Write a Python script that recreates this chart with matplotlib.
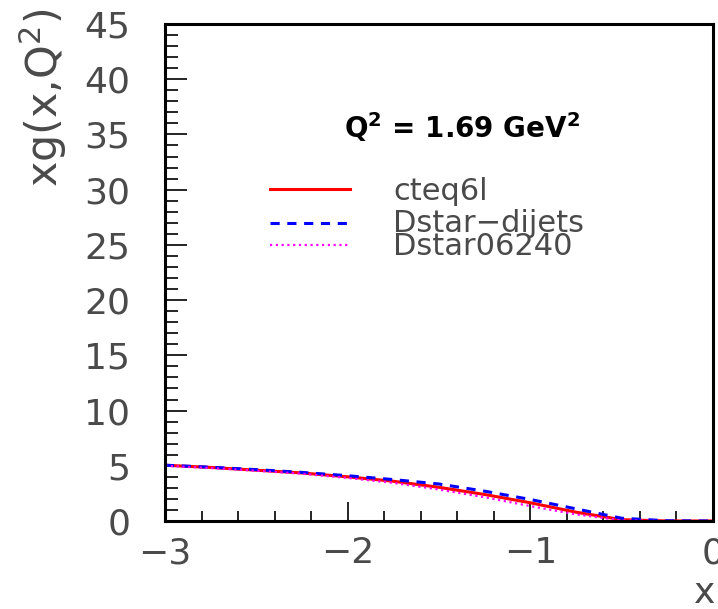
import numpy as np
import matplotlib
matplotlib.use("Agg")
import matplotlib.pyplot as plt
from matplotlib.ticker import MultipleLocator
from matplotlib.lines import Line2D

# gluon density, x axis is log10(x)
LOGX = [-3.0, -2.75, -2.5, -2.25, -2.0, -1.75, -1.5, -1.25, -1.0, -0.75, -0.5, -0.25, 0.0]
CTEQ6L = [5.05, 4.85, 4.6, 4.35, 4.0, 3.6, 3.05, 2.4, 1.65, 0.8, 0.12, 0.0, 0.0]
DSTAR_DIJETS = [5.05, 4.87, 4.65, 4.4, 4.1, 3.75, 3.35, 2.7, 1.95, 1.1, 0.25, 0.02, 0.0]
DSTAR06240 = [5.0, 4.8, 4.55, 4.28, 3.9, 3.45, 2.85, 2.15, 1.35, 0.6, 0.05, 0.0, 0.0]

SERIES = [
    ("cteq6l", CTEQ6L, {"color": "#ff0000", "linestyle": "-", "lw": 2.2}),
    ("Dstar\u2212dijets", DSTAR_DIJETS, {"color": "#0000ff", "linestyle": (0, (3, 2.5)), "lw": 2.2}),
    ("Dstar06240", DSTAR06240, {"color": "#ff00ff", "linestyle": (0, (1, 1.6)), "lw": 1.6}),
]

GRAY = "#4a4a4a"

fig = plt.figure(figsize=(7.18, 6.09), dpi=100)
ax = fig.add_axes([0.2298, 0.1445, 0.7632, 0.8161])

for label, vals, st in SERIES:
    ax.plot(LOGX, vals, color=st["color"], linestyle=st["linestyle"], lw=st["lw"])

ax.set_xlim(-3, 0)
ax.set_ylim(0, 45)

ax.xaxis.set_major_locator(MultipleLocator(1))
ax.xaxis.set_minor_locator(MultipleLocator(0.2))
ax.yaxis.set_major_locator(MultipleLocator(5))
ax.yaxis.set_minor_locator(MultipleLocator(1))

for s in ax.spines.values():
    s.set_linewidth(2.2)
ax.tick_params(axis="both", which="both", direction="in", width=1.2, colors="black",
               labelcolor=GRAY, labelsize=26)
ax.tick_params(axis="x", which="major", length=14, pad=11)
ax.tick_params(axis="x", which="minor", length=7)
ax.tick_params(axis="y", which="major", length=16, pad=25)
ax.tick_params(axis="y", which="minor", length=9)

ax.set_xlabel("x", fontsize=26, color=GRAY)
ax.xaxis.set_label_coords(0.985, -0.11)
ax.set_ylabel("xg(x,Q$^{2}$)", fontsize=31, color=GRAY, loc="top")
ax.yaxis.set_label_coords(-0.175, 1.03)

ax.text(0.542, 0.793, "Q$^{\\mathbf{2}}$ = 1.69 GeV$^{\\mathbf{2}}$", transform=ax.transAxes,
        ha="center", va="center", fontsize=20, fontweight="bold", color="black")

# hand-placed legend, entries overlap like in the original
key_y = [0.668, 0.5996, 0.5553]
text_y = [0.662, 0.598, 0.553]
for (label, vals, st), ky, ty in zip(SERIES, key_y, text_y):
    ax.add_line(Line2D([0.1916, 0.3376], [ky, ky], transform=ax.transAxes,
                       color=st["color"], linestyle=st["linestyle"], lw=st["lw"]))
    ax.text(0.416, ty, label, transform=ax.transAxes, ha="left", va="center",
            fontsize=22, color=GRAY)

fig.savefig("out.png", dpi=100)
